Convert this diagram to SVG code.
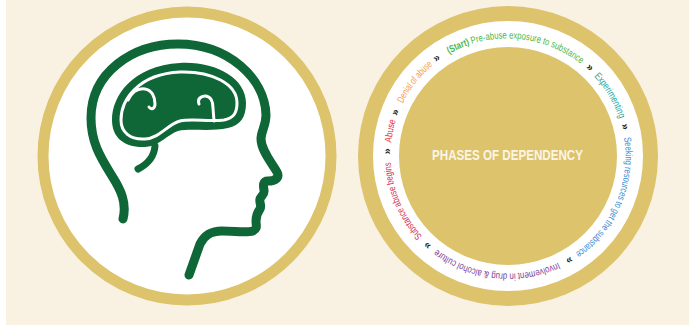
<svg xmlns="http://www.w3.org/2000/svg" xmlns:xlink="http://www.w3.org/1999/xlink" width="689" height="326" viewBox="0 0 689 326">
  <style>
    .ring-text { font-family: "Liberation Sans", Arial, sans-serif; font-size: 10px; }
    .chev { font-family: "Liberation Sans", Arial, sans-serif; font-size: 11px; font-weight: bold; fill: #231f20; }
    .green-line { fill: none; stroke: #0f6737; stroke-linecap: round; stroke-linejoin: round; }
    .white-line { fill: none; stroke: #ffffff; stroke-linecap: round; stroke-linejoin: round; }
    .title { font-family: "Liberation Sans", Arial, sans-serif; font-size: 14px; font-weight: bold; fill: #fbf5e6; }
  </style>
  <defs>
    <!-- clockwise baseline circle for the phase labels, starting at -40 degrees -->
    <path id="ring" d="M432.15,65.61 A118,118 0 0,1 583.85,246.39 A118,118 0 0,1 432.15,65.61"/>
  </defs>

  <!-- page background -->
  <rect x="0" y="0" width="689" height="326" fill="#ffffff"/>
  <rect x="6" y="0" width="683" height="325" fill="#f9f2e3"/>

  <!-- head with brain -->
  <g id="head-icon">
    <circle cx="187" cy="156" r="144" fill="#ffffff" stroke="#ddc36c" stroke-width="11"/>
    <!-- head profile -->
    <path class="green-line" stroke-width="9" d="M123,219 C127,203 121,190 112,176 C101,158 91,143 91,118 C91,73 132,44 178,44 C228,44 265,78 266,115 C266,126 261,131 261,139 C261,150 271,162 277,172 C280,178 275,181 268,181 C263,181 263,185 264,190 C265,194 261,196 260,199 C259,203 262,205 260,209 C257,213 256,216 256,221 C256,226 258,228 253,231 C246,233 235,231 222,231 C210,231 204,236 200,244 L189,275"/>
    <!-- brain -->
    <path fill="#0f6737" d="M112,120 C112,96 132,66 180,63 C215,61 246,78 246,103 C246,118 240,125 228,128 C210,132 190,128 178,131 C168,134 160,146 145,147 C125,148 112,138 112,120 Z"/>
    <path class="white-line" stroke-width="3" d="M121,120 C121,100 138,74 180,72 C212,71 237,84 237,103 C237,114 233,118 224,120 C208,122 192,118 180,121 C168,124 160,138 145,139 C130,140 121,132 121,120 Z"/>
    <!-- sulci -->
    <path class="white-line" stroke-width="3" d="M128,100 C132,92 138,88 145,89 C152,90 155,97 155,104 C155,109 151,110 149,107"/>
    <path class="white-line" stroke-width="3" d="M199,104 C197,99 201,96 205,96 C211,96 213,102 213,108 L214,121"/>
    <!-- brain stem -->
    <path class="green-line" stroke-width="7" d="M155,146 C154,158 146,165 138,169"/>
  </g>

  <!-- phases ring -->
  <g id="phases-wheel">
    <circle cx="508" cy="156" r="150" fill="#ddc36c"/>
    <circle cx="508" cy="156" r="122" fill="none" stroke="#ffffff" stroke-width="26"/>
    <text class="title" x="432" y="160" textLength="151" lengthAdjust="spacingAndGlyphs">PHASES OF DEPENDENCY</text>
  </g>

  <g id="phase-labels">
    <text class="ring-text" fill="#4db748"><textPath xlink:href="#ring" startOffset="20.6" textLength="140" lengthAdjust="spacingAndGlyphs"><tspan font-weight="bold">(Start)</tspan> Pre-abuse exposure to substance</textPath></text>
    <text class="ring-text" fill="#26a49a"><textPath xlink:href="#ring" startOffset="178.6" textLength="50" lengthAdjust="spacingAndGlyphs">Experimenting</textPath></text>
    <text class="ring-text" fill="#3b8fd4"><textPath xlink:href="#ring" startOffset="248" textLength="132" lengthAdjust="spacingAndGlyphs">Seeking resources to get the substance</textPath></text>
    <text class="ring-text" fill="#7a3e96"><textPath xlink:href="#ring" startOffset="399.5" textLength="128" lengthAdjust="spacingAndGlyphs">Involvement in drug &amp; alcohol culture</textPath></text>
    <text class="ring-text" fill="#d62e4b"><textPath xlink:href="#ring" startOffset="547.2" textLength="82" lengthAdjust="spacingAndGlyphs">Substance abuse begins</textPath></text>
    <text class="ring-text" fill="#e8344e"><textPath xlink:href="#ring" startOffset="648.7" textLength="23" lengthAdjust="spacingAndGlyphs">Abuse</textPath></text>
    <text class="ring-text" fill="#f6a04d"><textPath xlink:href="#ring" startOffset="689.9" textLength="49" lengthAdjust="spacingAndGlyphs">Denial of abuse</textPath></text>
  </g>

  <!-- step arrows between phases -->
  <g id="connectors">
    <text class="chev"><textPath xlink:href="#ring" startOffset="166.5">»</textPath></text>
    <text class="chev"><textPath xlink:href="#ring" startOffset="234.5">»</textPath></text>
    <text class="chev"><textPath xlink:href="#ring" startOffset="385.5">»</textPath></text>
    <text class="chev"><textPath xlink:href="#ring" startOffset="534">»</textPath></text>
    <text class="chev"><textPath xlink:href="#ring" startOffset="637">»</textPath></text>
    <text class="chev"><textPath xlink:href="#ring" startOffset="676">»</textPath></text>
    <text class="chev"><textPath xlink:href="#ring" startOffset="5">»</textPath></text>
  </g>
</svg>
